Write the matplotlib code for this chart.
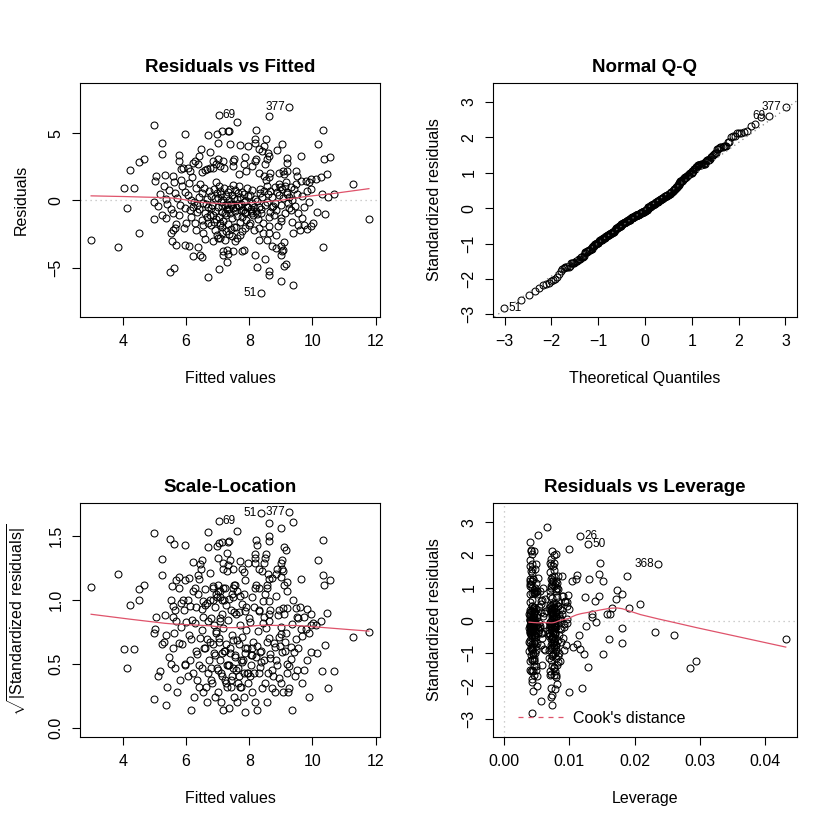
import numpy as np
import matplotlib
matplotlib.use("Agg")
import matplotlib.pyplot as plt
from matplotlib.lines import Line2D

plt.rcParams['font.family'] = ['Liberation Sans', 'DejaVu Sans']
plt.rcParams['mathtext.fontset'] = 'custom'
plt.rcParams['mathtext.rm'] = 'Liberation Sans'
plt.rcParams['mathtext.it'] = 'Liberation Sans:italic'
plt.rcParams['mathtext.bf'] = 'Liberation Sans:bold'

# ---------------- data ----------------
FITTED = [
    # f < 5.2
    2.99, 3.84, 4.14, 4.04, 4.35, 4.23, 4.52, 4.68, 4.52, 4.97, 5.04, 5.00, 4.97, 4.97, 5.18, 5.10,
    # 5.2 - 6.0
    5.23, 5.23, 5.32, 5.23, 5.37, 5.53, 5.55, 5.58, 5.50, 5.61,
    5.69, 5.66, 5.93, 5.77, 5.77, 5.85, 5.60, 5.85, 5.63, 5.98,
    5.95, 5.37, 5.53, 5.58, 5.79, 5.95, 5.69, 5.95, 5.90, 5.45,
    5.70, 5.80, 5.88, 5.40, 5.65, 5.30,
    # 6 - 7
    6.06, 6.22, 6.38, 6.59, 6.84, 6.47, 6.70, 6.97, 6.09, 6.21,
    6.38, 6.45, 6.49, 6.70, 6.27, 6.11, 6.65, 6.49, 6.75, 6.86,
    6.96, 6.00, 6.22, 6.33, 6.17, 6.49, 6.65, 6.80, 6.91, 6.97,
    6.05, 6.10, 6.15, 6.20, 6.25, 6.30, 6.35, 6.40, 6.42, 6.45,
    6.50, 6.52, 6.55, 6.58, 6.60, 6.62, 6.65, 6.68, 6.70, 6.72,
    6.75, 6.78, 6.80, 6.82, 6.85, 6.87, 6.90, 6.92, 6.94, 6.96,
    6.98, 6.12, 6.28, 6.55, 6.85, 6.40, 6.60, 6.88, 6.30, 6.76,
    # 7 - 8
    7.03, 7.62, 7.34, 7.13, 7.37, 7.02, 7.40, 7.72, 7.95, 7.02,
    7.18, 7.53, 7.87, 7.82, 7.07, 7.50, 7.04, 7.18, 7.34, 7.50,
    7.77, 7.84, 7.31, 7.07, 7.23, 7.45, 7.55, 7.60, 7.77, 7.87,
    7.02, 7.13, 7.13, 7.18, 7.31,
    7.00, 7.02, 7.04, 7.05, 7.06, 7.08, 7.10, 7.12, 7.14, 7.15,
    7.17, 7.18, 7.20, 7.22, 7.23, 7.25, 7.26, 7.28, 7.30, 7.32,
    7.33, 7.35, 7.36, 7.38, 7.40, 7.42, 7.43, 7.45, 7.46, 7.48,
    7.50, 7.52, 7.53, 7.55, 7.56, 7.58, 7.60, 7.62, 7.63, 7.65,
    7.66, 7.68, 7.70, 7.72, 7.73, 7.75, 7.76, 7.78, 7.80, 7.82,
    7.83, 7.85, 7.87, 7.88, 7.90, 7.92, 7.93, 7.95, 7.97, 7.98,
    7.08, 7.27, 7.41, 7.57, 7.71, 7.19, 7.47, 7.67, 7.89, 7.35,
    # 8 - 9
    8.62, 8.21, 8.53, 8.19, 8.17, 8.30, 8.46, 8.59, 8.89, 8.41,
    8.21, 8.57, 8.08, 8.51, 8.19, 8.62, 8.30, 8.46, 8.67, 8.62,
    8.94, 8.94, 8.38, 8.99, 8.62, 8.62, 8.25, 8.49, 8.17, 8.99,
    8.73, 8.85, 8.99, 8.30, 8.62, 8.62, 8.57, 8.30, 8.67, 8.78,
    8.99, 8.99, 8.14, 8.03,
    8.02, 8.04, 8.06, 8.08, 8.10, 8.12, 8.15, 8.18, 8.20, 8.23,
    8.26, 8.28, 8.30, 8.33, 8.36, 8.38, 8.41, 8.44, 8.47, 8.50,
    8.53, 8.56, 8.59, 8.64, 8.67, 8.71, 8.73, 8.76, 8.80, 8.83,
    8.86, 8.89, 8.92, 8.94, 8.97, 8.35, 8.57, 8.10, 8.45, 8.85,
    # 9 - 10
    9.26, 9.04, 9.63, 9.18, 9.18, 9.06, 9.20, 9.49, 9.52, 9.10,
    9.63, 9.79, 9.95, 9.90, 9.15, 9.31, 9.42, 9.05, 9.21, 9.26,
    9.95, 9.39, 9.10, 9.15, 9.07, 9.10, 9.05, 9.31, 9.26, 9.68,
    9.34, 9.56, 9.61, 9.84, 9.95, 9.38, 9.74,
    9.02, 9.08, 9.12, 9.18, 9.23, 9.35, 9.45, 9.50, 9.55, 9.66,
    9.72, 9.82, 9.88, 9.47, 9.12,
    # > 10
    10.35, 10.18, 10.38, 10.56, 10.46, 10.11, 10.27, 10.32, 10.48, 10.70,
    11.29, 11.79, 10.35, 10.16, 10.41, 10.03,
]

RESID = [
    -2.94, -3.48, -0.54, 0.93, 0.93, 2.26, 2.89, 3.06, -2.45, 5.64, 1.84, 1.47, -1.35, -0.13, 0.49, -0.40,
    4.24, 3.48, 1.89, -1.05, -1.30, -2.45, -3.01, -2.21, -5.32, -5.02,
    -1.72, -2.08, -2.08, 3.38, 2.94, 2.33, 1.84, 1.54, 1.35, 4.97,
    0.61, 0.08, -0.61, -0.96, -1.08, -0.59, -3.28, -3.28, 2.45, 0.75,
    0.20, -0.35, 1.05, -0.25, 0.55, 1.10,
    2.45, 2.82, 2.70, 2.26, 2.45, 3.80, 4.90, 4.95, -3.38, -4.12,
    -3.48, -4.04, -4.21, -5.71, 2.94, 2.21, 2.33, 2.13, 2.45, 2.94,
    2.70, -1.69, -0.46, -0.83, -1.20, -1.45, -1.20, -1.82, -2.18, -2.55,
    0.40, 1.30, 0.05, 1.75, -0.15, 0.90, -0.35, 0.25, -0.60, 1.20,
    0.55, -1.85, -0.20, 0.95, -0.95, -0.25, 0.10, -0.45, -1.70, 0.70,
    -1.10, 0.35, -0.55, -0.30, -1.05, 0.85, -0.80, 0.15, 1.35, -1.40,
    0.55, -0.70, -1.65, -2.40, -3.00, 3.30, -2.90, -1.60, -2.20, 3.60,
    6.37, 5.81, 5.15, 5.15, 5.20, 4.29, 4.23, 4.15, 4.08, 3.06,
    2.94, 3.06, 3.25, 2.70, 2.57, 2.94, -5.12, -3.78, -3.97, -3.78,
    -3.78, -3.65, -4.56, -2.79, -2.92, -2.67, -3.04, -2.79, -2.30, -2.06,
    -2.82, -2.45, -1.96, -4.04, -3.68,
    0.20, -0.50, 1.10, -1.20, 0.70, -1.80, -0.10, 0.45, -0.85, -0.40,
    0.05, -1.50, 0.90, -0.35, -0.90, 0.30, -1.05, -0.25, -0.60, 0.60,
    -1.75, -0.60, 0.06, -0.95, 0.85, -0.25, -0.35, 0.40, -1.30, 1.15,
    -0.55, 0.15, -2.00, 0.75, -0.80, -0.50, 0.10, -1.15, -0.30, 0.55,
    -0.40, 1.05, -1.60, 0.25, -0.25, -0.70, 0.65, -1.25, -0.70, -0.15,
    0.45, -0.95, -0.85, -0.04, -1.45, 0.95, -0.45, -0.45, 0.30, -1.80,
    -1.70, -2.25, -2.10, -1.95, -2.60, 2.45, 2.55, 2.00, 2.20, -2.50,
    6.25, 5.27, 4.54, 4.54, 4.29, 3.80, 4.04, 3.55, 3.75, 3.68,
    3.06, 3.06, 2.57, 2.70, 2.94, 3.31, 2.08, 1.84, 2.08, 1.71,
    2.08, 1.23, -6.91, -5.96, -5.51, -5.22, -4.98, -4.34, -4.04, -4.04,
    -3.35, -3.55, -3.40, -2.06, -1.93, -2.43, -2.92, -2.92, -0.83, -1.08,
    -1.32, -1.52, -2.18, -1.69,
    0.40, -0.60, -0.80, -0.20, 0.80, -1.10, -0.45, 0.10, -0.75, -1.00,
    -0.05, -1.40, -0.46, 0.55, -0.65, -0.90, 0.24, -1.65, 0.70, -0.30,
    1.50, -0.10, 0.45, -1.20, 0.74, -0.50, 0.24, -0.40, -0.20, 0.98,
    -0.70, 0.60, -1.90, 0.37, 1.00, 0.86, 1.10, -0.95, -2.40, -2.60,
    6.98, 4.21, 3.31, 3.19, 2.82, 2.16, 2.16, 2.16, 1.84, 1.96,
    1.47, 1.47, 1.59, 1.35, 1.35, 0.98, 0.86, 0.86, 0.61, 0.24,
    0.86, -6.30, -4.90, -4.71, -3.68, -3.07, -3.78, -0.71, -0.58, -1.27,
    -1.62, -1.82, -2.18, -2.11, -1.93, -2.43, -1.84,
    -0.30, 0.20, -0.90, 0.45, -0.20, 0.05, -0.40, 0.50, -0.95, 0.30,
    -0.50, 0.70, -0.15, 1.20, 1.10,
    5.27, 4.17, 3.06, 3.26, 1.96, 1.59, 1.71, 0.49, 0.24, 0.49,
    1.23, -1.35, -3.48, -0.83, -1.03, -1.64,
]

LEVERAGE = [
    0.0295, 0.0285, 0.0181, 0.0191, 0.0165, 0.0173, 0.0151, 0.0130, 0.0152, 0.0129, 0.0145, 0.0140, 0.0160, 0.0141, 0.0134, 0.0125,
    0.0147, 0.0146, 0.0098, 0.0115, 0.0090, 0.0122, 0.0085, 0.0062, 0.0099, 0.0119,
    0.0112, 0.0117, 0.0079, 0.0111, 0.0104, 0.0082, 0.0088, 0.0058, 0.0093, 0.0080,
    0.0057, 0.0096, 0.0087, 0.0056, 0.0084, 0.0055, 0.0081, 0.0058, 0.0059, 0.0089,
    0.0085, 0.0060, 0.0083, 0.0092, 0.0061, 0.0097,
    0.0072, 0.0049, 0.0078, 0.0045, 0.0081, 0.0047, 0.0076, 0.0042, 0.0074, 0.0050,
    0.0077, 0.0046, 0.0080, 0.0072, 0.0073, 0.0051, 0.0079, 0.0046, 0.0043, 0.0075,
    0.0041, 0.0075, 0.0052, 0.0078, 0.0048, 0.0082, 0.0045, 0.0077, 0.0042, 0.0074,
    0.0050, 0.0076, 0.0047, 0.0081, 0.0045, 0.0073, 0.0048, 0.0079, 0.0044, 0.0075,
    0.0046, 0.0080, 0.0043, 0.0077, 0.0049, 0.0072, 0.0042, 0.0078, 0.0045, 0.0074,
    0.0041, 0.0079, 0.0044, 0.0076, 0.0047, 0.0071, 0.0043, 0.0083, 0.0040, 0.0075,
    0.0046, 0.0073, 0.0051, 0.0078, 0.0045, 0.0082, 0.0042, 0.0076, 0.0048, 0.0070,
    0.0052, 0.0040, 0.0074, 0.0045, 0.0041, 0.0077, 0.0043, 0.0071, 0.0039, 0.0044,
    0.0079, 0.0040, 0.0073, 0.0039, 0.0076, 0.0042, 0.0078, 0.0044, 0.0072, 0.0041,
    0.0070, 0.0039, 0.0043, 0.0080, 0.0045, 0.0073, 0.0040, 0.0069, 0.0038, 0.0071,
    0.0046, 0.0075, 0.0044, 0.0077, 0.0042,
    0.0044, 0.0078, 0.0042, 0.0073, 0.0046, 0.0080, 0.0041, 0.0075, 0.0043, 0.0070,
    0.0040, 0.0077, 0.0045, 0.0072, 0.0039, 0.0079, 0.0042, 0.0074, 0.0041, 0.0071,
    0.0043, 0.0076, 0.0040, 0.0069, 0.0044, 0.0078, 0.0039, 0.0073, 0.0042, 0.0070,
    0.0038, 0.0075, 0.0041, 0.0072, 0.0040, 0.0077, 0.0039, 0.0068, 0.0043, 0.0074,
    0.0040, 0.0071, 0.0038, 0.0076, 0.0041, 0.0069, 0.0039, 0.0073, 0.0042, 0.0070,
    0.0038, 0.0075, 0.0040, 0.0072, 0.0039, 0.0068, 0.0041, 0.0074, 0.0040, 0.0071,
    0.0045, 0.0079, 0.0043, 0.0076, 0.0041, 0.0047, 0.0072, 0.0040, 0.0070, 0.0044,
    0.0117, 0.0041, 0.0072, 0.0040, 0.0070, 0.0042, 0.0075, 0.0043, 0.0077, 0.0041,
    0.0071, 0.0044, 0.0039, 0.0073, 0.0040, 0.0076, 0.0042, 0.0070, 0.0045, 0.0074,
    0.0047, 0.0079, 0.0043, 0.0057, 0.0074, 0.0044, 0.0071, 0.0042, 0.0070, 0.0080,
    0.0045, 0.0076, 0.0048, 0.0041, 0.0073, 0.0044, 0.0072, 0.0042, 0.0075, 0.0045,
    0.0078, 0.0047, 0.0069, 0.0039,
    0.0040, 0.0072, 0.0042, 0.0076, 0.0039, 0.0070, 0.0044, 0.0074, 0.0041, 0.0078,
    0.0043, 0.0071, 0.0040, 0.0075, 0.0042, 0.0069, 0.0045, 0.0073, 0.0041, 0.0077,
    0.0043, 0.0070, 0.0046, 0.0074, 0.0042, 0.0079, 0.0044, 0.0072, 0.0047, 0.0076,
    0.0045, 0.0080, 0.0048, 0.0073, 0.0046, 0.0071, 0.0043, 0.0078, 0.0047, 0.0082,
    0.0066, 0.0049, 0.0088, 0.0052, 0.0081, 0.0048, 0.0079, 0.0055, 0.0090, 0.0050,
    0.0057, 0.0093, 0.0062, 0.0096, 0.0082, 0.0053, 0.0086, 0.0048, 0.0080, 0.0051,
    0.0100, 0.0073, 0.0050, 0.0081, 0.0049, 0.0083, 0.0078, 0.0054, 0.0085, 0.0058,
    0.0087, 0.0056, 0.0091, 0.0061, 0.0105, 0.0084, 0.0095,
    0.0050, 0.0080, 0.0052, 0.0084, 0.0054, 0.0086, 0.0055, 0.0089, 0.0058, 0.0060,
    0.0092, 0.0064, 0.0097, 0.0056, 0.0082,
    0.0099, 0.0236, 0.0110, 0.0188, 0.0181, 0.0172, 0.0124, 0.0158, 0.0134, 0.0163,
    0.0209, 0.0432, 0.0129, 0.0231, 0.0260, 0.0181,
]

# observation names of the labelled points (fitted, residual)
NAMED_POINTS = {
    '377': (9.26, 6.98), '69': (7.03, 6.37), '51': (8.38, -6.91),
    '26': (8.62, 6.25), '50': (4.97, 5.64), '368': (10.18, 4.17),
}
N_COEF = 3

TITLES = ["Residuals vs Fitted", "Normal Q-Q", "Scale-Location", "Residuals vs Leverage"]
RVF_XTICKS = [4, 6, 8, 10, 12]
RVF_YTICKS = [-5, 0, 5]
QQ_XTICKS = [-3, -2, -1, 0, 1, 2, 3]
QQ_YTICKS = [-3, -2, -1, 0, 1, 2, 3]
SL_YTICKS = [0.0, 0.5, 1.0, 1.5]
LEV_XTICKS = [0.00, 0.01, 0.02, 0.03, 0.04]
LEV_YTICKS = [-3, -2, -1, 0, 1, 2, 3]

assert len(FITTED) == len(RESID) == len(LEVERAGE)

# ---------------- computations ----------------
fitted = np.array(FITTED)
resid = np.array(RESID)
lev = np.array(LEVERAGE)
n = len(fitted)
p = N_COEF
s = np.sqrt(np.sum(resid ** 2) / (n - p))
std_res = resid / (s * np.sqrt(1 - lev))
sqrt_abs = np.sqrt(np.abs(std_res))
cooks = std_res ** 2 * lev / (p * (1 - lev))

names = [str(i + 1) for i in range(n)]
for nm, (fv, rv) in NAMED_POINTS.items():
    idx = int(np.argmin(np.abs(fitted - fv) + np.abs(resid - rv)))
    names[idx] = nm


def qnorm(pp):
    a = [-3.969683028665376e+01, 2.209460984245205e+02, -2.759285104469687e+02,
         1.383577518672690e+02, -3.066479806614716e+01, 2.506628277459239e+00]
    b = [-5.447609879822406e+01, 1.615858368580409e+02, -1.556989798598866e+02,
         6.680131188771972e+01, -1.328068155288572e+01]
    c = [-7.784894002430293e-03, -3.223964580411365e-01, -2.400758277161838e+00,
         -2.549732539343734e+00, 4.374664141464968e+00, 2.938163982698783e+00]
    d = [7.784695709041462e-03, 3.224671290700398e-01, 2.445134137142996e+00,
         3.754408661907416e+00]
    out = []
    for q in pp:
        if q < 0.02425:
            t = np.sqrt(-2 * np.log(q))
            v = (((((c[0]*t+c[1])*t+c[2])*t+c[3])*t+c[4])*t+c[5]) / ((((d[0]*t+d[1])*t+d[2])*t+d[3])*t+1)
        elif q > 1 - 0.02425:
            t = np.sqrt(-2 * np.log(1 - q))
            v = -(((((c[0]*t+c[1])*t+c[2])*t+c[3])*t+c[4])*t+c[5]) / ((((d[0]*t+d[1])*t+d[2])*t+d[3])*t+1)
        else:
            t = q - 0.5
            r = t * t
            v = (((((a[0]*r+a[1])*r+a[2])*r+a[3])*r+a[4])*r+a[5])*t / (((((b[0]*r+b[1])*r+b[2])*r+b[3])*r+b[4])*r+1)
        out.append(v)
    return np.array(out)


def lowess(x, y, f=2/3, iters=3):
    o = np.argsort(x, kind='mergesort')
    xs, ys = x[o], y[o]
    nn = len(xs)
    ns = max(min(int(f * nn + 1e-7), nn), 2)
    rw = np.ones(nn)
    fit = np.zeros(nn)
    for it in range(iters + 1):
        for i in range(nn):
            dist = np.abs(xs - xs[i])
            h = np.sort(dist)[ns - 1]
            if h <= 0:
                h = 1e-12
            u = dist / h
            w = np.where(u < 0.999, (1 - np.clip(u, 0, 1) ** 3) ** 3, 0.0)
            w = np.where(u <= 0.001, 1.0, w) * rw
            sw = w.sum()
            xm = (w * xs).sum() / sw
            ym = (w * ys).sum() / sw
            den = (w * (xs - xm) ** 2).sum()
            bb = (w * (xs - xm) * (ys - ym)).sum() / den if den > 1e-12 else 0.0
            fit[i] = ym + bb * (xs[i] - xm)
        res = np.abs(ys - fit)
        cmad = 6 * np.median(res)
        if cmad < 1e-7:
            break
        uu = res / cmad
        rw = np.where(uu < 1, (1 - uu ** 2) ** 2, 0.0)
    return xs, fit


def rlim(lo, hi):
    d = hi - lo
    return lo - 0.04 * d, hi + 0.04 * d


def extendrange(v, f):
    lo, hi = v.min(), v.max()
    d = hi - lo
    return lo - f * d, hi + f * d


RED = '#DF536B'
GRAY = '#BEBEBE'
TS = 11.5
LS = 11.5
TITLE_S = 13.5
ID_S = 8.5
MS = 5.0
MEW = 0.75
DOT = (0, (1, 3))

fig = plt.figure(figsize=(8.4, 8.4), dpi=100)
W = 840.0
boxes = [(80, 83, 380, 317), (493, 83, 797, 317), (80, 503, 380, 737), (493, 503, 797, 737)]
axes = []
for (x0, y0, x1, y1) in boxes:
    axes.append(fig.add_axes([x0 / W, 1 - y1 / W, (x1 - x0) / W, (y1 - y0) / W]))


def style(ax, title, xlabel, ylabel, xt, yt, xfmt=None, yfmt=None):
    ax.set_title(title, fontsize=TITLE_S, fontweight='bold', pad=8)
    ax.set_xlabel(xlabel, fontsize=LS, labelpad=16)
    ax.set_ylabel(ylabel, fontsize=LS, labelpad=14)
    ax.set_xticks(xt)
    ax.set_yticks(yt)
    if xfmt:
        ax.set_xticklabels([xfmt % v for v in xt])
    if yfmt:
        ax.set_yticklabels([yfmt % v for v in yt])
    ax.tick_params(direction='out', length=6, width=0.8, labelsize=TS, pad=6)
    for lab in ax.get_yticklabels():
        lab.set_rotation(90)
        lab.set_verticalalignment('center')
    for sp in ax.spines.values():
        sp.set_linewidth(0.8)


def pts(ax, x, y):
    ax.plot(x, y, 'o', mfc='none', mec='black', ms=MS, mew=MEW, ls='none')


def label_ids(ax, xs, ys, labs):
    mid = (np.min(xs) + np.max(xs)) / 2
    for xv, yv, lb in zip(xs, ys, labs):
        if xv > mid:
            ax.annotate(lb, (xv, yv), xytext=(-3, 0), textcoords='offset points',
                        ha='right', va='center', fontsize=ID_S, annotation_clip=False)
        else:
            ax.annotate(lb, (xv, yv), xytext=(3, 0), textcoords='offset points',
                        ha='left', va='center', fontsize=ID_S, annotation_clip=False)


# ---- Panel 1: Residuals vs Fitted ----
ax = axes[0]
ax.axhline(0, color=GRAY, ls=DOT, lw=0.9)
pts(ax, fitted, resid)
lx, ly = lowess(fitted, resid)
ax.plot(lx, ly, color=RED, lw=0.9)
ax.set_xlim(*rlim(fitted.min(), fitted.max()))
ax.set_ylim(*rlim(*extendrange(resid, 0.08)))
top = np.argsort(-np.abs(resid))[:3]
label_ids(ax, fitted[top], resid[top], [names[i] for i in top])
style(ax, TITLES[0], "Fitted values", "Residuals", RVF_XTICKS, RVF_YTICKS)

# ---- Panel 2: Normal Q-Q ----
ax = axes[1]
pp = (np.arange(1, n + 1) - 0.5) / n
qth = qnorm(pp)
order = np.argsort(std_res, kind='mergesort')
qx = np.empty(n)
qx[order] = qth
pts(ax, qx, std_res)
y1q, y3q = np.quantile(std_res, [0.25, 0.75])
x1q, x3q = qnorm([0.25, 0.75])
slope = (y3q - y1q) / (x3q - x1q)
ax.axline((x1q, y1q), slope=slope, color='#7F7F7F', ls=DOT, lw=0.9)
ax.set_xlim(*rlim(qx.min(), qx.max()))
ylo, yhi = std_res.min(), std_res.max()
yhi = yhi + (yhi - ylo) * 0.075
ax.set_ylim(*rlim(ylo, yhi))
top = np.argsort(-np.abs(std_res))[:3]
label_ids(ax, qx[top], std_res[top], [names[i] for i in top])
style(ax, TITLES[1], "Theoretical Quantiles", "Standardized residuals", QQ_XTICKS, QQ_YTICKS)

# ---- Panel 3: Scale-Location ----
ax = axes[2]
pts(ax, fitted, sqrt_abs)
lx, ly = lowess(fitted, sqrt_abs)
ax.plot(lx, ly, color=RED, lw=0.9)
ax.set_xlim(*rlim(fitted.min(), fitted.max()))
ax.set_ylim(*rlim(0, sqrt_abs.max()))
top = np.argsort(-np.abs(std_res))[:3]
label_ids(ax, fitted[top], sqrt_abs[top], [names[i] for i in top])
style(ax, TITLES[2], "Fitted values", r'$\sqrt{|\mathrm{Standardized\ residuals}|}$',
      RVF_XTICKS, SL_YTICKS, yfmt='%.1f')

# ---- Panel 4: Residuals vs Leverage ----
ax = axes[3]
ax.axhline(0, color=GRAY, ls=DOT, lw=0.9)
ax.axvline(0, color=GRAY, ls=DOT, lw=0.9)
pts(ax, lev, std_res)
lx, ly = lowess(lev, std_res)
ax.plot(lx, ly, color=RED, lw=0.9)
ax.set_xlim(*rlim(0, lev.max()))
ax.set_ylim(*rlim(*extendrange(std_res, 0.08)))
top = np.argsort(-cooks)[:3]
label_ids(ax, lev[top], std_res[top], [names[i] for i in top])
ax.legend(handles=[Line2D([], [], color=RED, ls=(0, (4, 4)), lw=0.9)],
          labels=["Cook's distance"], loc='lower left', frameon=False,
          fontsize=LS, handlelength=3.0, handletextpad=0.45, borderaxespad=0.2,
          borderpad=0.5, bbox_to_anchor=(0.045, 0.0))
style(ax, TITLES[3], "Leverage", "Standardized residuals", LEV_XTICKS, LEV_YTICKS, xfmt='%.2f')

fig.savefig("out.png", dpi=100, facecolor='white')
